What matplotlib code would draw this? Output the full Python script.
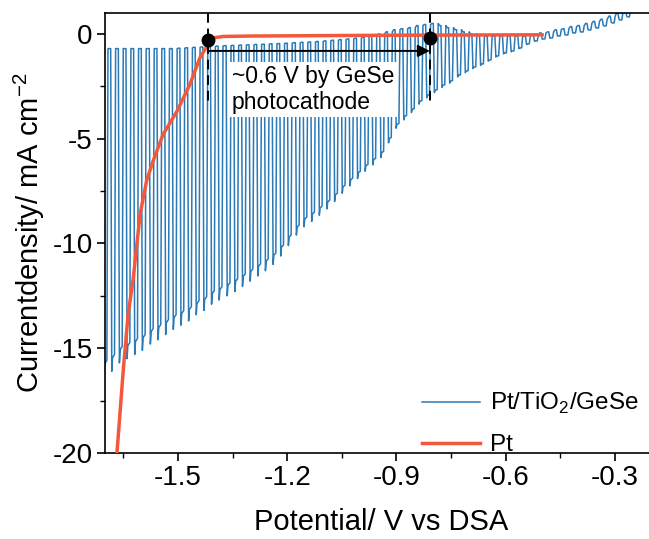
import matplotlib
matplotlib.use("Agg")
import matplotlib.pyplot as plt
from matplotlib.ticker import MultipleLocator
import numpy as np

plt.rcParams['font.family'] = ['Liberation Sans', 'DejaVu Sans']
plt.rcParams['mathtext.fontset'] = 'custom'
plt.rcParams['mathtext.rm'] = 'Liberation Sans'

# chopped-light LSV of Pt/TiO2/GeSe: potential of each light pulse,
# current under light (pulse bottom) and dark current between pulses
chop_v = [-1.699, -1.678, -1.657, -1.636, -1.615, -1.594, -1.572, -1.551, -1.530, -1.509,
          -1.488, -1.467, -1.446, -1.425, -1.404, -1.383, -1.361, -1.340, -1.319, -1.298,
          -1.277, -1.256, -1.235, -1.214, -1.193, -1.171, -1.150, -1.129, -1.108, -1.087,
          -1.066, -1.045, -1.024, -1.003, -0.982, -0.961, -0.939, -0.918, -0.897, -0.876,
          -0.855, -0.834, -0.813, -0.792, -0.771, -0.750, -0.728, -0.707, -0.686, -0.665,
          -0.644, -0.623, -0.602, -0.581, -0.560, -0.539, -0.517, -0.496, -0.475, -0.454,
          -0.433, -0.412, -0.391, -0.370, -0.349, -0.328, -0.306, -0.285, -0.264]
light_j = [-16.4, -16.1, -15.7, -15.5, -15.3, -15.1, -14.8, -14.6, -14.35, -14.1,
           -13.9, -13.7, -13.4, -13.2, -12.9, -12.7, -12.5, -12.3, -12.05, -11.8,
           -11.55, -11.3, -11.0, -10.6, -10.1, -9.6, -9.2, -8.95, -8.65, -8.35,
           -8.0, -7.6, -7.25, -6.9, -6.55, -6.25, -5.9, -5.2, -4.5, -4.1,
           -3.75, -3.35, -3.05, -2.8, -2.55, -2.35, -2.05, -1.85, -1.65, -1.5,
           -1.3, -1.1, -0.95, -0.85, -0.7, -0.5, -0.35, -0.25, -0.2, -0.1,
           -0.05, 0.05, 0.1, 0.2, 0.3, 0.4, 0.55, 0.7, 0.85]
dark_j = [-0.7, -0.7, -0.7, -0.7, -0.7, -0.7, -0.7, -0.7, -0.7, -0.7,
          -0.68, -0.66, -0.64, -0.62, -0.6, -0.58, -0.56, -0.55, -0.53, -0.52,
          -0.5, -0.49, -0.47, -0.46, -0.44, -0.42, -0.4, -0.38, -0.36, -0.33,
          -0.3, -0.27, -0.24, -0.2, -0.15, -0.1, 0.0, 0.1, 0.2, 0.25,
          0.3, 0.4, 0.45, 0.5, 0.4, 0.3, 0.2, 0.1, 0.0, -0.05,
          -0.1, -0.1, -0.1, -0.1, -0.1, -0.1, -0.05, 0.05, 0.1, 0.2,
          0.25, 0.35, 0.4, 0.5, 0.6, 0.7, 0.85, 1.0, 1.15]
chop_step = 0.0211

# bare Pt reference
pt_v = [-1.668, -1.650, -1.637, -1.623, -1.604, -1.586, -1.569, -1.541, -1.503, -1.467,
        -1.440, -1.420, -1.404, -1.376, -1.30, -1.10, -0.90, -0.70, -0.50]
pt_j = [-20.1, -16.0, -13.4, -11.7, -8.6, -7.0, -6.1, -4.8, -3.7, -2.4,
        -1.15, -0.57, -0.19, -0.12, -0.10, -0.08, -0.06, -0.05, -0.04]

# onset potentials marked on the plot
onset_v = [-1.418, -0.808]
onset_j = [-0.29, -0.2]
arrow_j = -0.81

# build the chopped trace, one light pulse per step
wave_x, wave_y = [], []
for c, l, d in zip(chop_v, light_j, dark_j):
    p = chop_step
    wave_x += [c - 0.5 * p, c - 0.32 * p, c - 0.18 * p, c - 0.08 * p, c + 0.18 * p, c + 0.32 * p]
    wave_y += [d, d, l, l * 0.96, l * 0.95, d]

fig = plt.figure(figsize=(6.49, 5.39), dpi=100)
ax = fig.add_axes([0.162, 0.1596, 0.85, 0.8163])

ax.plot(wave_x, wave_y, color='#2a7ab8', lw=1.1, label='Pt/TiO$_2$/GeSe', zorder=2)
ax.plot(pt_v, pt_j, color='#f4583c', lw=2.5, label='Pt', zorder=3)

for v in onset_v:
    ax.plot([v, v], [1.0, -3.4], color='black', lw=1.4, dashes=(5, 3), zorder=4)
ax.annotate('', xy=(onset_v[1], arrow_j), xytext=(onset_v[0] + 0.005, arrow_j),
            arrowprops=dict(arrowstyle='-|>', color='black', lw=1.4,
                            mutation_scale=18, shrinkA=0, shrinkB=0), zorder=5)
ax.plot(onset_v, onset_j, 'o', color='black', ms=9, zorder=6)
ax.text(-1.352, -2.65, '~0.6 V by GeSe\nphotocathode', fontsize=16.5,
        ha='left', va='center', linespacing=1.15, zorder=5,
        bbox=dict(facecolor='white', edgecolor='none', pad=2.5))

ax.set_xlim(-1.70, -0.185)
ax.set_ylim(-20, 1)
ax.xaxis.set_minor_locator(MultipleLocator(0.15))
ax.yaxis.set_minor_locator(MultipleLocator(2.5))
ax.set_xticks([-1.5, -1.2, -0.9, -0.6, -0.3])
ax.set_xticklabels(['-1.5', '-1.2', '-0.9', '-0.6', '-0.3'])
ax.set_yticks([0, -5, -10, -15, -20])
ax.set_yticklabels(['0', '-5', '-10', '-15', '-20'])
ax.tick_params(which='major', direction='out', length=6, width=1.2, labelsize=20, pad=3)
ax.tick_params(which='minor', direction='out', length=3.5, width=1.0)
for s in ax.spines.values():
    s.set_linewidth(1.2)

ax.set_xlabel('Potential/ V vs DSA', fontsize=21, labelpad=12)
ax.set_ylabel('Currentdensity/ mA cm$^{-2}$', fontsize=21, labelpad=4)

ax.legend(loc='lower right', bbox_to_anchor=(0.985, -0.03), borderaxespad=0,
          frameon=False, fontsize=17.5, handlelength=2.4, handletextpad=0.4,
          labelspacing=0.75)

fig.savefig('out.png', dpi=100)
